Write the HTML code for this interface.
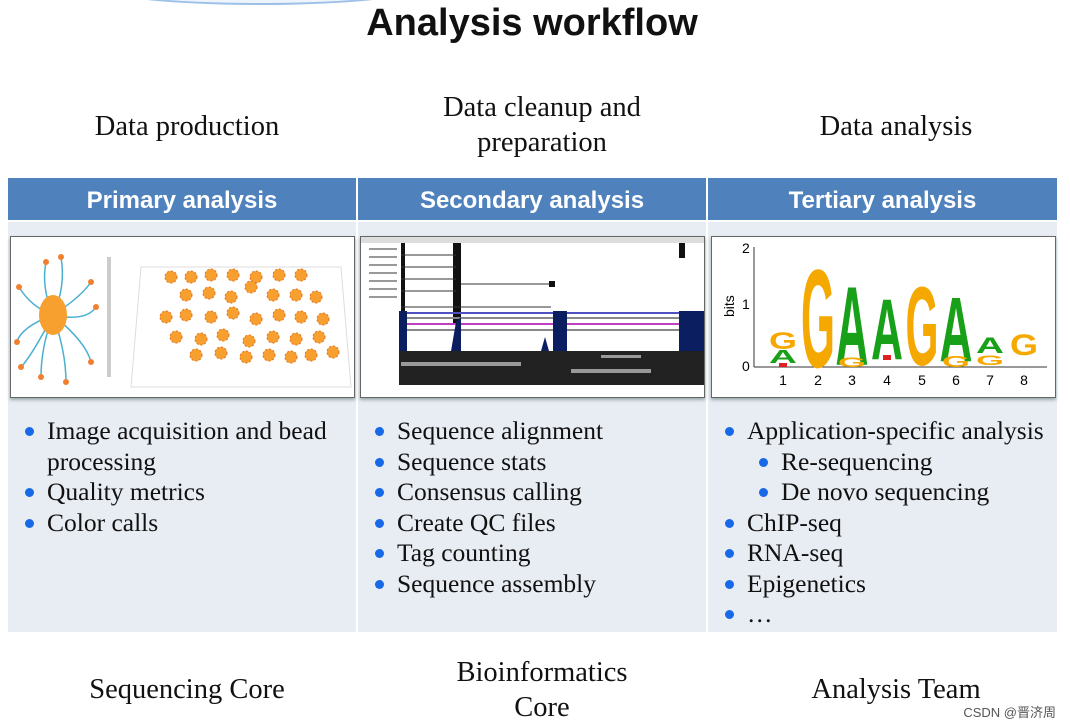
<!DOCTYPE html>
<html><head><meta charset="utf-8"><style>
*{margin:0;padding:0;box-sizing:border-box}
body{width:1070px;height:728px;background:#fff;position:relative;overflow:hidden;font-family:"Liberation Serif",serif;color:#111}
.a{position:absolute}
.t{font-family:"Liberation Serif",serif;font-size:28.5px;text-align:center;line-height:35px}
.hd{position:absolute;top:178px;height:42px;background:#4f81bd;color:#fff;font-family:"Liberation Sans",sans-serif;font-weight:bold;font-size:24px;text-align:center;line-height:46px}
.col{position:absolute;top:222px;height:410px;background:#e8ecf3}
.img{position:absolute;top:236px;height:162px;background:#fff;border:1px solid #666;box-shadow:0 2px 3px #9aa;overflow:hidden}
ul{position:absolute;top:416px;list-style:none;font-size:25.5px;line-height:30.5px}
li{position:relative;padding-left:32px}
li:before{content:"";position:absolute;left:10px;top:11px;width:9px;height:9px;border-radius:50%;background:#1769e8}
li.s{padding-left:66px}
li.s:before{left:44px}
</style></head><body>
<div class="a" style="left:80px;top:-40px;width:360px;height:45px;border-radius:50%;border:2px solid #9cc0e8;background:#eef4fb"></div>
<div class="a" style="left:0;top:0;width:1064px;text-align:center;font-family:'Liberation Sans',sans-serif;font-weight:bold;font-size:38px;line-height:46px"><span style="display:inline-block;transform:scaleX(1.0)">Analysis workflow</span></div>
<div class="a t" style="left:10px;top:109px;width:354px">Data production</div>
<div class="a t" style="left:360px;top:90px;width:364px">Data cleanup and<br>preparation</div>
<div class="a t" style="left:710px;top:109px;width:372px">Data analysis</div>

<div class="col" style="left:8px;width:348px"></div>
<div class="col" style="left:358px;width:348px"></div>
<div class="col" style="left:708px;width:349px"></div>
<div class="hd" style="left:8px;width:348px">Primary analysis</div>
<div class="hd" style="left:358px;width:348px">Secondary analysis</div>
<div class="hd" style="left:708px;width:349px">Tertiary analysis</div>

<div class="img" style="left:10px;width:345px">
<svg width="345" height="162">
<g stroke="#4ab0d0" stroke-width="1.5" fill="none">
<path d="M42 78 Q30 50 35 25"/><path d="M42 78 Q55 50 50 20"/><path d="M42 78 Q20 70 8 50"/><path d="M42 78 Q70 60 80 45"/><path d="M42 78 Q75 85 85 70"/><path d="M42 78 Q10 90 6 105"/><path d="M42 78 Q30 110 30 140"/><path d="M42 78 Q55 115 55 145"/><path d="M42 78 Q75 105 80 125"/><path d="M42 78 Q20 120 10 130"/>
</g>
<g fill="#f08030"><circle cx="35" cy="25" r="3"/><circle cx="50" cy="20" r="3"/><circle cx="8" cy="50" r="3"/><circle cx="80" cy="45" r="3"/><circle cx="85" cy="70" r="3"/><circle cx="6" cy="105" r="3"/><circle cx="30" cy="140" r="3"/><circle cx="55" cy="145" r="3"/><circle cx="80" cy="125" r="3"/><circle cx="10" cy="130" r="3"/></g>
<ellipse cx="42" cy="78" rx="14" ry="20" fill="#f7a030"/>
<rect x="96" y="20" width="4" height="120" fill="#ccc"/>
<path d="M130 30 L330 30 L340 150 L120 150 Z" fill="#fff" stroke="#ddd"/>
<g fill="#f7a030" stroke="#e07020" stroke-dasharray="2 2">
<circle cx="160" cy="40" r="6"/><circle cx="180" cy="40" r="6"/><circle cx="200" cy="38" r="6"/><circle cx="222" cy="38" r="6"/><circle cx="245" cy="40" r="6"/><circle cx="268" cy="38" r="6"/><circle cx="290" cy="38" r="6"/>
<circle cx="175" cy="58" r="6"/><circle cx="198" cy="56" r="6"/><circle cx="220" cy="60" r="6"/><circle cx="240" cy="50" r="6"/><circle cx="262" cy="58" r="6"/><circle cx="285" cy="58" r="6"/><circle cx="305" cy="60" r="6"/>
<circle cx="155" cy="80" r="6"/><circle cx="175" cy="78" r="6"/><circle cx="200" cy="80" r="6"/><circle cx="222" cy="76" r="6"/><circle cx="245" cy="82" r="6"/><circle cx="268" cy="78" r="6"/><circle cx="290" cy="80" r="6"/><circle cx="312" cy="82" r="6"/>
<circle cx="165" cy="100" r="6"/><circle cx="190" cy="102" r="6"/><circle cx="212" cy="98" r="6"/><circle cx="238" cy="104" r="6"/><circle cx="262" cy="100" r="6"/><circle cx="285" cy="102" r="6"/><circle cx="308" cy="100" r="6"/>
<circle cx="185" cy="118" r="6"/><circle cx="210" cy="116" r="6"/><circle cx="235" cy="120" r="6"/><circle cx="258" cy="118" r="6"/><circle cx="280" cy="120" r="6"/><circle cx="300" cy="118" r="6"/><circle cx="322" cy="115" r="6"/>
</g>
</svg></div>

<div class="img" style="left:360px;width:345px">
<svg width="345" height="162">
<rect x="0" y="0" width="345" height="6" fill="#ddd"/>
<g fill="#111"><rect x="40" y="6" width="4" height="80"/><rect x="92" y="6" width="8" height="80"/><rect x="318" y="6" width="6" height="15"/></g>
<g stroke="#333"><line x1="8" y1="12" x2="36" y2="12"/><line x1="8" y1="20" x2="36" y2="20"/><line x1="8" y1="28" x2="36" y2="28"/><line x1="8" y1="36" x2="36" y2="36"/><line x1="8" y1="44" x2="36" y2="44"/><line x1="8" y1="52" x2="36" y2="52"/><line x1="8" y1="60" x2="36" y2="60"/><line x1="40" y1="18" x2="95" y2="18"/><line x1="40" y1="30" x2="95" y2="30"/><line x1="40" y1="42" x2="95" y2="42"/><line x1="40" y1="54" x2="95" y2="54"/><line x1="100" y1="47" x2="190" y2="47"/><line x1="40" y1="70" x2="190" y2="70"/></g>
<rect x="188" y="44" width="6" height="6" fill="#111"/>
<rect x="38" y="75" width="307" height="2" fill="#5050c0"/><rect x="38" y="80" width="307" height="2" fill="#888"/><rect x="38" y="86" width="307" height="2" fill="#c040c0"/><rect x="38" y="92" width="307" height="2" fill="#888"/>
<g fill="#0a1e60"><rect x="38" y="74" width="8" height="40"/><path d="M90 114 L95 85 L100 80 L100 114Z"/><rect x="192" y="74" width="14" height="40"/><rect x="318" y="74" width="27" height="40"/><path d="M180 114 L184 100 L188 114Z"/></g>
<rect x="38" y="114" width="307" height="34" fill="#222"/>
<g fill="#999"><rect x="40" y="125" width="120" height="4"/><rect x="210" y="132" width="80" height="4"/><rect x="240" y="118" width="40" height="3"/></g>
</svg></div>

<div class="img" style="left:711px;width:345px">
<svg width="345" height="162" font-family="Liberation Sans,sans-serif">
<line x1="42" y1="10" x2="42" y2="130" stroke="#333"/><line x1="42" y1="130" x2="335" y2="130" stroke="#333"/>
<text x="30" y="16" font-size="14">2</text><text x="30" y="72" font-size="14">1</text><text x="30" y="134" font-size="14">0</text>
<text x="22" y="80" font-size="14" transform="rotate(-90 22 80)">bits</text>
<g font-size="14" text-anchor="middle"><text x="71" y="148">1</text><text x="106" y="148">2</text><text x="140" y="148">3</text><text x="175" y="148">4</text><text x="210" y="148">5</text><text x="244" y="148">6</text><text x="278" y="148">7</text><text x="312" y="148">8</text></g>
<g font-weight="bold" text-anchor="middle">
<text x="106" y="130" font-size="140" fill="#f5a800" textLength="34" lengthAdjust="spacingAndGlyphs">G</text>
<text x="140" y="128" font-size="112" fill="#18a018" textLength="33" lengthAdjust="spacingAndGlyphs">A</text>
<text x="175" y="122" font-size="86" fill="#18a018" textLength="32" lengthAdjust="spacingAndGlyphs">A</text>
<text x="210" y="128" font-size="112" fill="#f5a800" textLength="33" lengthAdjust="spacingAndGlyphs">G</text>
<text x="244" y="124" font-size="92" fill="#18a018" textLength="33" lengthAdjust="spacingAndGlyphs">A</text>
<text x="71" y="112" font-size="24" fill="#f5a800" textLength="28" lengthAdjust="spacingAndGlyphs">G</text>
<text x="71" y="126" font-size="18" fill="#18a018" textLength="28" lengthAdjust="spacingAndGlyphs">A</text>
<text x="278" y="116" font-size="22" fill="#18a018" textLength="28" lengthAdjust="spacingAndGlyphs">A</text>
<text x="312" y="118" font-size="30" fill="#f5a800" textLength="28" lengthAdjust="spacingAndGlyphs">G</text>
<text x="140" y="130" font-size="14" fill="#f5a800" textLength="28" lengthAdjust="spacingAndGlyphs">G</text>
<text x="244" y="130" font-size="16" fill="#f5a800" textLength="28" lengthAdjust="spacingAndGlyphs">G</text>
<text x="278" y="128" font-size="14" fill="#f5a800" textLength="28" lengthAdjust="spacingAndGlyphs">G</text>
</g>
<g fill="#e02020"><rect x="67" y="126" width="8" height="4"/><rect x="171" y="118" width="8" height="5"/></g>
</svg></div>

<ul style="left:15px;width:345px"><li>Image acquisition and bead processing</li><li>Quality metrics</li><li>Color calls</li></ul>
<ul style="left:365px;width:340px"><li>Sequence alignment</li><li>Sequence stats</li><li>Consensus calling</li><li>Create QC files</li><li>Tag counting</li><li>Sequence assembly</li></ul>
<ul style="left:715px;width:355px"><li>Application-specific analysis</li><li class="s">Re-sequencing</li><li class="s">De novo sequencing</li><li>ChIP-seq</li><li>RNA-seq</li><li>Epigenetics</li><li>…</li></ul>

<div class="a t" style="left:10px;top:672px;width:354px">Sequencing Core</div>
<div class="a t" style="left:360px;top:655px;width:364px">Bioinformatics<br>Core</div>
<div class="a t" style="left:710px;top:672px;width:372px">Analysis Team</div>
<div class="a" style="right:14px;top:702px;font-family:'Liberation Sans','Noto Sans CJK SC',sans-serif;font-size:13px;color:#555">CSDN @晋济周</div>
</body></html>
